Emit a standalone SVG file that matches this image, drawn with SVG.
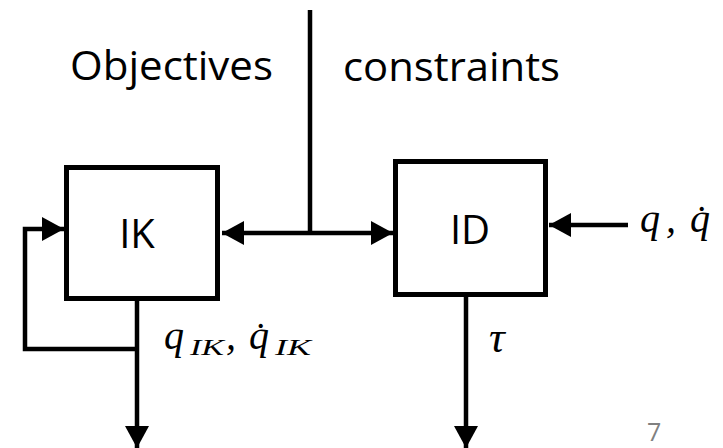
<svg xmlns="http://www.w3.org/2000/svg" width="723" height="448" viewBox="0 0 723 448">
  <style>
    .box { fill: #ffffff; stroke: #000000; stroke-width: 5; }
    .wire { fill: none; stroke: #000000; stroke-width: 4.5; }
    .lbl { font-family: "Open Sans", "Noto Sans", sans-serif; font-size: 40px; fill: #000000; }
    .math { font-family: "Liberation Serif", "DejaVu Serif", serif; font-style: italic; font-size: 40px; fill: #000000; }
    .sub { font-family: "Liberation Serif", "DejaVu Serif", serif; font-style: italic; font-size: 23px; fill: #000000; }
    .page { font-family: "Open Sans", "Noto Sans", sans-serif; font-size: 25px; fill: #808080; }
  </style>
  <defs>
    <marker id="arrow" markerUnits="userSpaceOnUse" markerWidth="23" markerHeight="24" refX="22" refY="12" orient="auto-start-reverse">
      <path d="M0,0 L22,12 L0,24 Z" fill="#000000"/>
    </marker>
  </defs>
  <rect width="723" height="448" fill="#ffffff"/>

  <!-- connectors -->
  <g id="connectors">
    <line class="wire" x1="310" y1="10" x2="310" y2="233"/>
    <line class="wire" x1="222" y1="233" x2="393" y2="233" marker-start="url(#arrow)" marker-end="url(#arrow)"/>
    <line class="wire" x1="628" y1="225" x2="549" y2="225" marker-end="url(#arrow)"/>
    <line class="wire" x1="137" y1="300" x2="137" y2="448" marker-end="url(#arrow)"/>
    <path class="wire" d="M137,349 H25 V229 H64" marker-end="url(#arrow)"/>
    <line class="wire" x1="466" y1="296" x2="466" y2="448" marker-end="url(#arrow)"/>
  </g>

  <!-- blocks -->
  <g id="ik">
    <rect class="box" x="66.5" y="167.5" width="151" height="131"/>
    <text class="lbl" x="137" y="248" text-anchor="middle">IK</text>
  </g>
  <g id="id">
    <rect class="box" x="395.5" y="161.5" width="150" height="133"/>
    <text class="lbl" x="470" y="244" text-anchor="middle">ID</text>
  </g>

  <!-- headings -->
  <text class="lbl" x="70" y="80" textLength="203" lengthAdjust="spacingAndGlyphs">Objectives</text>
  <text class="lbl" x="343" y="81" textLength="217" lengthAdjust="spacingAndGlyphs">constraints</text>

  <!-- signals: q_IK, q-dot_IK -->
  <g id="q-ik">
    <text class="math" x="164" y="349">q</text>
    <text class="sub" x="190" y="355" textLength="34" lengthAdjust="spacingAndGlyphs">IK</text>
    <text class="math" x="226" y="349">,</text>
    <text class="math" x="249" y="349">q&#x307;</text>
    <text class="sub" x="275" y="355" textLength="36" lengthAdjust="spacingAndGlyphs">IK</text>
  </g>
  <!-- signals: q, q-dot -->
  <g id="q-in">
    <text class="math" x="640" y="232">q</text>
    <text class="math" x="666" y="232">,</text>
    <text class="math" x="690" y="232">q&#x307;</text>
  </g>
  <text class="math" x="489" y="352" style="font-size:44px">τ</text>

  <text class="page" x="647" y="441">7</text>
</svg>
